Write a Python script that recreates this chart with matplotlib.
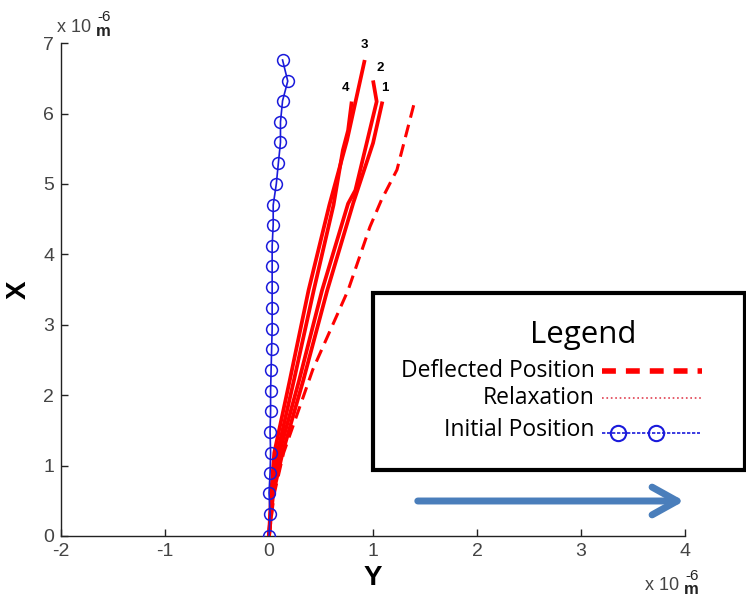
import matplotlib
matplotlib.use("Agg")
import matplotlib.pyplot as plt
from matplotlib.lines import Line2D
from matplotlib.patches import Rectangle, FancyArrowPatch

plt.rcParams['font.family'] = ['Liberation Sans', 'DejaVu Sans']
plt.rcParams['axes.unicode_minus'] = False

# ---- data (units of 1e-6 m) ----
init_y = [0, 0.01, 0.0, 0.01, 0.015, 0.01, 0.015, 0.015, 0.02, 0.025, 0.03, 0.03,
          0.03, 0.03, 0.03, 0.04, 0.04, 0.07, 0.09, 0.11, 0.11, 0.13, 0.18, 0.13]
init_x = [0, 0.31, 0.61, 0.90, 1.18, 1.48, 1.77, 2.06, 2.36, 2.66, 2.94, 3.24,
          3.54, 3.83, 4.12, 4.42, 4.70, 5.00, 5.30, 5.59, 5.88, 6.18, 6.46, 6.76]

defl_y = [0, 0.05, 0.14, 0.33, 0.42, 0.76, 0.97, 1.08, 1.23, 1.40]
defl_x = [0, 0.60, 1.18, 1.98, 2.36, 3.49, 4.39, 4.77, 5.20, 6.17]

relax1_y = [0, 0.04, 0.13, 0.33, 0.56, 0.81, 1.00, 1.09]
relax1_x = [0, 0.60, 1.18, 2.215, 3.49, 4.73, 5.58, 6.17]
relax2_y = [0, 0.03, 0.10, 0.29, 0.51, 0.76, 0.83, 1.035, 1.00]
relax2_x = [0, 0.60, 1.18, 2.215, 3.49, 4.72, 4.91, 6.17, 6.47]
relax3_y = [0, 0.02, 0.05, 0.20, 0.38, 0.58, 0.75, 0.92]
relax3_x = [0, 0.60, 1.18, 2.215, 3.49, 4.70, 5.62, 6.76]
relax4_y = [0, 0.03, 0.08, 0.24, 0.43, 0.62, 0.71, 0.76, 0.795]
relax4_x = [0, 0.60, 1.18, 2.215, 3.49, 4.70, 5.48, 5.76, 6.17]

curve_labels = ['1', '2', '3', '4']
label_pos = [(1.115, 6.36), (1.07, 6.65), (0.92, 6.98), (0.74, 6.36)]

xticks = [-2, -1, 0, 1, 2, 3, 4]
yticks = [0, 1, 2, 3, 4, 5, 6, 7]

fig = plt.figure(figsize=(7.46, 6.07), dpi=100)
ax = fig.add_axes([0.0818, 0.117, 0.8365, 0.812])

red = '#ff0000'
for yy, xx in [(relax1_y, relax1_x), (relax2_y, relax2_x), (relax3_y, relax3_x), (relax4_y, relax4_x)]:
    ax.plot(yy, xx, color=red, lw=2.7, solid_capstyle='butt', solid_joinstyle='round', zorder=3)
ax.plot(defl_y, defl_x, color=red, lw=2.2, ls=(0, (4.2, 2.4)), zorder=3)
ax.plot(init_y, init_x, color='#1a1adb', lw=1.2, marker='o', ms=8.5,
        mfc='none', mec='#1a1adb', mew=1.1, zorder=4)

for lab, (px, py) in zip(curve_labels, label_pos):
    ax.text(px, py, lab, fontsize=9.5, fontweight='bold', ha='center', va='center')

ax.set_xlim(-2, 4)
ax.set_ylim(0, 7)
ax.set_xticks(xticks)
ax.set_yticks(yticks)
ax.spines['top'].set_visible(False)
ax.spines['right'].set_visible(False)
for s in ['left', 'bottom']:
    ax.spines[s].set_linewidth(1.0)
    ax.spines[s].set_color('#222222')
ax.tick_params(direction='in', length=5, width=1, labelsize=14, colors='#222222',
               labelcolor='#444444', pad=5)
ax.set_xlabel('Y', fontsize=20, fontweight='bold', labelpad=4)
ax.set_ylabel('X', fontsize=20, fontweight='bold', labelpad=8)

# exponent annotations
fig.text(57/746, 1-27/607, 'x 10', fontsize=13, color='#444444', ha='left', va='center')
fig.text(97/746, 1-17/607, '-6', fontsize=11, color='#222222', ha='left', va='center')
fig.text(96/746, 1-31/607, 'm', fontsize=12, fontweight='bold', color='#222222', ha='left', va='center')
fig.text(645/746, 1-586/607, 'x 10', fontsize=13, color='#444444', ha='left', va='center')
fig.text(685/746, 1-576/607, '-6', fontsize=11, color='#222222', ha='left', va='center')
fig.text(684/746, 1-590/607, 'm', fontsize=12, fontweight='bold', color='#222222', ha='left', va='center')

# legend box (drawn annotation)
W, H = 746, 607
def fx(p):
    return p / W
def fy(p):
    return 1 - p / H
box = Rectangle((fx(373), fy(470)), fx(745) - fx(373), fy(293) - fy(470),
                transform=fig.transFigure, fill=True, facecolor='white',
                edgecolor='black', lw=3, zorder=5)
fig.patches.append(box)
lfont = ['Open Sans', 'DejaVu Sans']
fig.text(fx(583), fy(335), 'Legend', fontsize=22.5, ha='center', va='center', family=lfont, zorder=6)
fig.text(fx(595), fy(371), 'Deflected Position', fontsize=16.5, ha='right', va='center', family=lfont, zorder=6)
fig.text(fx(595), fy(398), 'Relaxation', fontsize=16.5, ha='right', va='center', family=lfont, zorder=6)
fig.text(fx(595), fy(430), 'Initial Position', fontsize=16.5, ha='right', va='center', family=lfont, zorder=6)
fig.lines.append(Line2D([fx(602), fx(702)], [fy(371), fy(371)], transform=fig.transFigure,
                        color=red, lw=4, ls=(0, (2.5, 1.8)), zorder=6))
fig.lines.append(Line2D([fx(602), fx(702)], [fy(398), fy(398)], transform=fig.transFigure,
                        color='#e04050', lw=1.2, ls=':', zorder=6))
fig.lines.append(Line2D([fx(602), fx(700)], [fy(433), fy(433)], transform=fig.transFigure,
                        color='#1a1adb', lw=1.2, ls=(0, (2, 1)), zorder=6))
fig.lines.append(Line2D([fx(618), fx(656)], [fy(433), fy(433)], transform=fig.transFigure,
                        color='#1a1adb', lw=0, marker='o', ms=11, mfc='none', mew=1.5, zorder=6))

# blue arrow
arr = FancyArrowPatch((fx(415), fy(501)), (fx(687), fy(501)), transform=fig.transFigure,
                      arrowstyle='->,head_length=0.9,head_width=0.5',
                      color='#4a7ebb', lw=5, mutation_scale=20, zorder=6)
fig.patches.append(arr)

fig.savefig('out.png', dpi=100)
